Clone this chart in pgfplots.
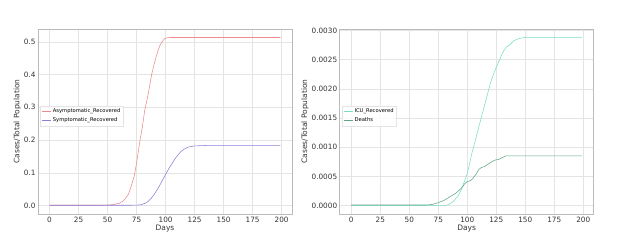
\documentclass[border=0pt]{standalone}
\usepackage{fontspec}
\setmainfont{DejaVu Sans}
\usepackage{pgfplots}
\pgfplotsset{compat=1.18}
\definecolor{asym}{HTML}{EC8A8C}
\definecolor{sym}{HTML}{8C7EDA}
\definecolor{icu}{HTML}{78DEC8}
\definecolor{death}{HTML}{5EA682}
\definecolor{gridc}{HTML}{E4E4E4}
\definecolor{framec}{HTML}{BBBBBB}
\definecolor{tickc}{HTML}{333333}
\pgfplotsset{
  mystyle/.style={
    scale only axis, width=254pt, height=185pt,
    anchor=south west,
    xmin=-9.95, xmax=208.95,
    xtick={0,25,...,200},
    grid=major, major grid style={gridc, line width=0.5pt},
    axis line style={framec, line width=0.6pt},
    tick style={draw=none},
    ticklabel style={font=\fontsize{7.3}{8}\selectfont, text=tickc},
    yticklabel style={xshift=1pt},
    label style={font=\fontsize{7.5}{8}\selectfont, text=tickc},
    /pgf/number format/assume math mode=true,
    xlabel={Days}, ylabel={Cases/Total Population},
    xlabel style={yshift=5pt},
    ylabel style={yshift=-4pt},
    legend cell align=left,
    legend style={font=\fontsize{5.2}{6}\selectfont, draw=gridc, fill=white, fill opacity=0.85, text opacity=1,
      at={(0.008,0.53)}, anchor=west, inner sep=1.5pt, row sep=0pt, nodes={inner sep=1.6pt}},
    legend image code/.code={\draw[##1] (0pt,0pt) -- (9pt,0pt);},
    every axis plot/.append style={line width=0.55pt},
  }
}
\begin{document}
\begin{tikzpicture}
\useasboundingbox (0,0) rectangle (624pt,245pt);
\begin{axis}[mystyle, at={(38pt,31pt)},
  ymin=-0.0257, ymax=0.539,
  ytick={0,0.1,...,0.5},
  yticklabel style={/pgf/number format/.cd, fixed, fixed zerofill, precision=1},
]
\addplot[asym] coordinates {
(0,0.001)(40,0.001)(50,0.0015)(55,0.003)(60,0.007)(63,0.013)(65,0.02)(68,0.035)(70,0.055)(73,0.09)(75,0.13)(78,0.2)(80,0.24)(82,0.29)(85,0.34)(88,0.40)(90,0.43)(93,0.468)(95,0.488)(97,0.5)(99,0.509)(101,0.512)(104,0.513)(199,0.513)};
\addlegendentry{Asymptomatic\_Recovered}
\addplot[sym] coordinates {
(0,0.001)(70,0.001)(75,0.0015)(78,0.002)(80,0.004)(83,0.008)(85,0.013)(88,0.024)(90,0.033)(93,0.05)(95,0.062)(98,0.082)(100,0.095)(103,0.114)(105,0.125)(108,0.142)(110,0.152)(113,0.164)(115,0.170)(118,0.176)(120,0.179)(125,0.182)(135,0.1835)(199,0.184)};
\addlegendentry{Symptomatic\_Recovered}
\end{axis}
\begin{axis}[mystyle, at={(339.7pt,31pt)},
  ymin=-0.000144, ymax=0.003024,
  ytick={0,0.0005,...,0.003},
  scaled y ticks=false,
  yticklabel style={/pgf/number format/.cd, fixed, fixed zerofill, precision=4},
]
\addplot[icu] coordinates {
(0,0.0)(80,0.0)(83,0.00001)(85,0.00003)(88,0.00007)(90,0.00012)(92,0.00016)(95,0.00028)(98,0.00044)(100,0.00055)(102,0.00072)(104,0.0009)(106,0.00105)(108,0.0012)(110,0.00135)(112,0.0015)(114,0.00165)(116,0.0018)(118,0.00195)(120,0.0021)(122,0.00222)(124,0.00232)(126,0.00242)(128,0.0025)(130,0.0026)(132,0.00267)(134,0.00272)(137,0.00276)(140,0.00282)(143,0.00285)(147,0.00287)(150,0.00288)(199,0.00288)};
\addlegendentry{ICU\_Recovered}
\addplot[death] coordinates {
(0,0.00001)(65,0.00001)(70,0.00002)(75,0.00005)(80,0.00009)(85,0.00015)(90,0.00021)(95,0.0003)(98,0.00038)(100,0.00041)(103,0.00043)(105,0.00047)(108,0.00055)(110,0.00062)(112,0.00065)(115,0.00067)(118,0.00071)(121,0.00075)(124,0.00078)(127,0.00079)(130,0.00082)(133,0.00085)(199,0.00085)};
\addlegendentry{Deaths}
\end{axis}
\end{tikzpicture}
\end{document}
